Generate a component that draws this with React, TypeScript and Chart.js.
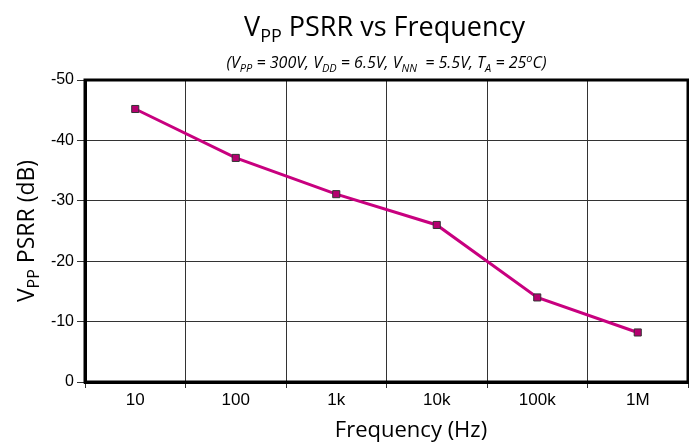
import React, { useEffect, useRef } from "react";
import { Chart, registerables } from "chart.js";

Chart.register(...registerables);

const categories = ["10", "100", "1k", "10k", "100k", "1M"];
const psrrValues = [-45.2, -37.1, -31.1, -26.0, -14.0, -8.2];
const yTickValues = [-50, -40, -30, -20, -10, 0];

type Seg = { t: string; sub?: boolean; sup?: boolean };

const titleSegs: Seg[] = [{ t: "V" }, { t: "PP", sub: true }, { t: " PSRR vs Frequency" }];
const subtitleSegs: Seg[] = [
  { t: "(V" }, { t: "PP", sub: true }, { t: " = 300V, V" }, { t: "DD", sub: true },
  { t: " = 6.5V, V" }, { t: "NN", sub: true }, { t: "  = 5.5V, T" }, { t: "A", sub: true },
  { t: " = 25" }, { t: "o", sup: true }, { t: "C)" },
];
const yTitleSegs: Seg[] = [{ t: "V" }, { t: "PP", sub: true }, { t: " PSRR (dB)" }];
const xTitleSegs: Seg[] = [{ t: "Frequency (Hz)" }];

function drawRich(
  ctx: CanvasRenderingContext2D,
  segs: Seg[],
  cx: number,
  baseline: number,
  size: number,
  family: string,
  style: string
) {
  const fontFor = (s: Seg) => `${style} ${s.sub || s.sup ? Math.round(size * 0.68) : size}px ${family}`;
  let total = 0;
  const widths = segs.map((s) => {
    ctx.font = fontFor(s);
    const w = ctx.measureText(s.t).width;
    total += w;
    return w;
  });
  let x = cx - total / 2;
  ctx.textAlign = "left";
  ctx.textBaseline = "alphabetic";
  ctx.fillStyle = "#000";
  segs.forEach((s, i) => {
    ctx.font = fontFor(s);
    let dy = 0;
    if (s.sub) dy = size * 0.22;
    if (s.sup) dy = -size * 0.38;
    ctx.fillText(s.t, x, baseline + dy);
    x += widths[i];
  });
}

const decorPlugin = {
  id: "decor",
  beforeDatasetsDraw(chart: any) {
    const { ctx, chartArea } = chart;
    ctx.save();
    ctx.strokeStyle = "#000";
    ctx.lineWidth = 3;
    ctx.strokeRect(chartArea.left, chartArea.top, chartArea.right - chartArea.left, chartArea.bottom - chartArea.top);
    ctx.restore();
  },
  afterDraw(chart: any) {
    const { ctx, chartArea } = chart;
    const cx = (chartArea.left + chartArea.right) / 2;
    ctx.save();
    drawRich(ctx, titleSegs, cx - 2, 36, 27, "'Open Sans', sans-serif", "normal");
    drawRich(ctx, subtitleSegs, cx, 68, 16, "'Open Sans', sans-serif", "italic");
    drawRich(ctx, xTitleSegs, 411, 437, 22, "'Open Sans', sans-serif", "normal");
    ctx.translate(34, (chartArea.top + chartArea.bottom) / 2);
    ctx.rotate(-Math.PI / 2);
    drawRich(ctx, yTitleSegs, 0, 0, 23, "'Open Sans', sans-serif", "normal");
    ctx.restore();
  },
};

export default function App() {
  const ref = useRef<HTMLCanvasElement | null>(null);
  useEffect(() => {
    if (!ref.current) return;
    const chart = new Chart(ref.current, {
      type: "line",
      data: {
        labels: categories,
        datasets: [
          {
            data: psrrValues,
            borderColor: "#c8007f",
            borderWidth: 3,
            pointStyle: "rect",
            pointRadius: 5,
            pointBackgroundColor: "#b5006f",
            pointBorderColor: "#333",
            pointBorderWidth: 1,
            tension: 0,
          },
        ],
      },
      options: {
        responsive: false,
        animation: false,
        devicePixelRatio: 1,
        layout: { autoPadding: false, padding: { top: 80, left: 0, right: 1, bottom: 0 } },
        plugins: { legend: { display: false }, tooltip: { enabled: false }, title: { display: false } },
        scales: {
          x: {
            type: "category",
            offset: true,
            grid: { offset: true, color: "#333", lineWidth: 1, tickLength: 6, drawTicks: true, tickColor: "#333" },
            border: { display: true, color: "#000", width: 3 },
            ticks: { color: "#000", font: { family: "'Liberation Sans', Arial, sans-serif", size: 17 }, padding: 2, maxRotation: 0 },
            afterFit: (scale: any) => { scale.height = 62; scale.paddingLeft = 0; scale.paddingRight = 0; },
          },
          y: {
            type: "linear",
            min: -50,
            max: 0,
            reverse: true,
            afterBuildTicks: (scale: any) => { scale.ticks = yTickValues.map((v) => ({ value: v })); },
            grid: { color: "#333", lineWidth: 1, tickLength: 8, drawTicks: true, tickColor: "#333" },
            border: { display: true, color: "#000", width: 3 },
            ticks: { color: "#000", font: { family: "'Liberation Sans', Arial, sans-serif", size: 16 }, padding: 3 },
            afterFit: (scale: any) => { scale.width = 85; scale.paddingTop = 0; scale.paddingBottom = 0; },
          },
        },
      },
      plugins: [decorPlugin],
    });
    return () => chart.destroy();
  }, []);
  return (
    <div style={{ position: "absolute", left: 0, top: 0, width: 689, height: 444 }}>
      <canvas ref={ref} width={689} height={444} />
    </div>
  );
}
